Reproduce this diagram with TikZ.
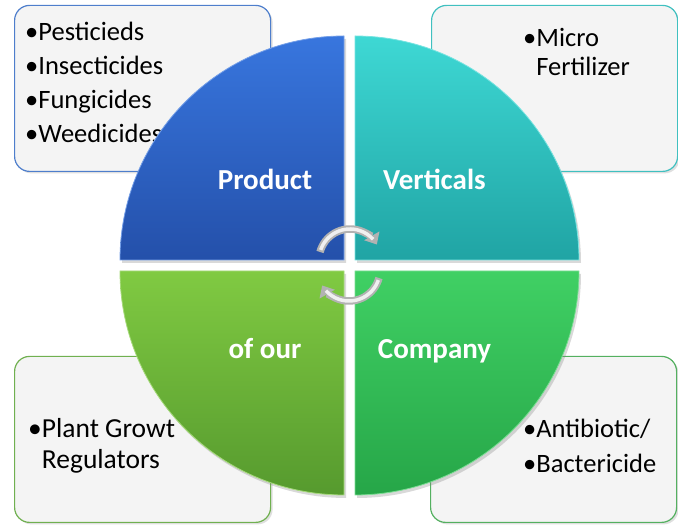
\documentclass[tikz,border=0pt]{standalone}
\usepackage{fontspec}
\setmainfont{Carlito}
\usepackage{tikz}
\usetikzlibrary{shadows}
\usetikzlibrary{arrows.meta}
\usetikzlibrary{positioning}

\definecolor{prodtop}{RGB}{56,118,222}
\definecolor{prodbot}{RGB}{36,80,170}
\definecolor{verttop}{RGB}{62,216,212}
\definecolor{vertbot}{RGB}{32,164,164}
\definecolor{ourtop}{RGB}{128,202,66}
\definecolor{ourbot}{RGB}{86,154,46}
\definecolor{comptop}{RGB}{64,208,100}
\definecolor{compbot}{RGB}{38,166,72}
\definecolor{boxfill}{RGB}{244,244,244}
\definecolor{boxblue}{RGB}{78,126,204}
\definecolor{boxteal}{RGB}{64,192,192}
\definecolor{boxgreen}{RGB}{112,176,80}
\definecolor{boxgreentwo}{RGB}{84,176,96}

\tikzset{
  listbox/.style={draw=#1, line width=1.2pt, fill=boxfill, rounded corners=15pt,
    minimum width=256pt, minimum height=166pt, anchor=south west, inner sep=0pt,
    drop shadow={opacity=0.25, shadow xshift=2pt, shadow yshift=-2pt}},
  listtext/.style={anchor=north west, inner sep=0pt, align=left, text=black},
  quadrant/.style={drop shadow={opacity=0.3, shadow xshift=2pt, shadow yshift=-3pt}},
  qlabel/.style={anchor=base, inner sep=0pt, text=white,
    font=\fontsize{29}{34}\selectfont\bfseries},
  turnarrow/.style={line width=7.5pt, draw=gray!60,
    -{Triangle[width=17pt,length=10pt]}},
  turnshine/.style={line width=3.5pt, draw=white!88!gray}
}

\begin{document}
\begin{tikzpicture}[x=1pt, y=1pt]
  \useasboundingbox (0,0) rectangle (678,526);

  % corner boxes
  \node[listbox=boxblue] (pestbox) at (14,354) {};
  \node[listbox=boxteal, minimum width=246pt] (fertbox) at (431,354) {};
  \node[listbox=boxgreen] (pgrbox) at (14,3) {};
  \node[listbox=boxgreentwo, minimum width=246pt] (bactbox) at (430,3) {};

  \node[listtext, font=\fontsize{26.5}{34}\selectfont] (pesttext) at (25,504)
    {•Pesticieds\\•Insecticides\\•Fungicides\\•Weedicides};
  \node[listtext, font=\fontsize{26.5}{29}\selectfont] (ferttext) at (523,498)
    {•Micro\\\hphantom{•}Fertilizer};
  \node[listtext, font=\fontsize{27.5}{31}\selectfont] (pgrtext) at (28,108)
    {•Plant Growt\\\hphantom{•}Regulators};
  \node[listtext, font=\fontsize{26.5}{35}\selectfont] (bacttext) at (523,107)
    {•Antibiotic/\\•Bactericide};

  % the four quarters
  \path[quadrant, top color=prodtop, bottom color=prodbot, draw=prodtop!70!white, line width=0.8pt]
    (344,266) -- ++(-224,0) arc[start angle=180, end angle=90, radius=224] -- cycle;
  \path[quadrant, top color=verttop, bottom color=vertbot, draw=verttop!70!white, line width=0.8pt]
    (355,266) -- ++(0,224) arc[start angle=90, end angle=0, radius=224] -- cycle;
  \path[quadrant, top color=ourtop, bottom color=ourbot, draw=ourtop!70!white, line width=0.8pt]
    (344,255) -- ++(0,-224) arc[start angle=270, end angle=180, radius=224] -- cycle;
  \path[quadrant, top color=comptop, bottom color=compbot, draw=comptop!70!white, line width=0.8pt]
    (355,255) -- ++(224,0) arc[start angle=0, end angle=-90, radius=224] -- cycle;

  \node[qlabel] (product) at (265,336) {Product};
  \node[qlabel] (verticals) at (434.5,336) {Verticals};
  \node[qlabel] (ofour) at (265,167) {of our};
  \node[qlabel] (company) at (434.5,167) {Company};

  % turning arrows in the middle
  \coordinate (hubtop) at (350,266);
  \coordinate (hubbot) at (349,256);
  \draw[turnarrow] ([shift={(165:31)}]hubtop) arc[start angle=165, end angle=30, radius=31];
  \draw[turnshine] ([shift={(161:31)}]hubtop) arc[start angle=161, end angle=42, radius=31];
  \draw[turnarrow] ([shift={(-15:31)}]hubbot) arc[start angle=-15, end angle=-150, radius=31];
  \draw[turnshine] ([shift={(-19:31)}]hubbot) arc[start angle=-19, end angle=-138, radius=31];
\end{tikzpicture}
\end{document}
